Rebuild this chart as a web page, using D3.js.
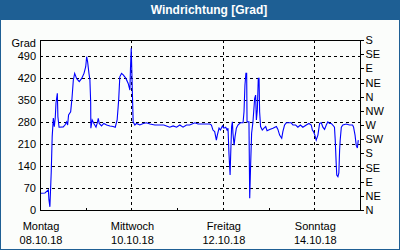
<!DOCTYPE html>
<html><head><meta charset="utf-8">
<script src="https://cdn.jsdelivr.net/npm/d3@7"></script>
<style>
body{margin:0;background:#fff;}
text{font-family:"Liberation Sans",Arial,sans-serif;}
</style></head>
<body><svg id="c" width="400" height="250"></svg>
<script>
const title = "Windrichtung [Grad]";
const unitLabel = "Grad";
const startDate = new Date(2018, 9, 8);
const dayNames = ["Montag","Mittwoch","Freitag","Sonntag"];
const dayDates = ["08.10.18","10.10.18","12.10.18","14.10.18"];
const labelDays = [0,2,4,6];
const leftTicks = [0,70,140,210,280,350,420,490];
const compassTicks = [0,45,90,135,180,225,270,315,360,405,450,495,540];
const compassNames = ["N","NE","E","SE","S","SW","W","NW","N","NE","E","SE","S"];
const hours = [0.5,2.6,4.4,4.7,5.2,5.9,6.4,7.0,7.5,8.0,8.4,9.1,9.4,10.0,12.2,13.1,14.0,14.5,15.0,16.1,16.8,17.5,18.2,19.2,20.6,21.9,23.1,24.0,24.5,25.0,25.7,26.2,26.6,26.7,27.4,28.3,29.4,30.0,30.6,31.1,32.3,33.5,35.0,36.7,38.4,39.5,40.5,41.3,41.9,42.8,43.7,45.1,46.3,47.2,47.5,47.9,48.2,48.6,48.9,49.8,50.7,52.4,54.2,55.9,57.7,60.3,62.9,65.0,66.4,68.1,69.9,71.7,73.4,75.1,76.9,78.6,81.3,83.0,85.6,89.1,90.0,90.8,91.7,92.6,93.1,94.0,94.7,95.8,96.5,97.5,98.2,98.7,99.2,99.8,100.1,100.6,101.0,101.3,101.9,102.4,103.1,103.9,105.2,106.6,107.1,107.6,108.1,108.5,108.7,109.7,110.1,110.6,111.1,111.8,112.7,113.2,113.6,114.1,114.6,115.0,115.3,115.8,116.7,117.6,118.5,119.2,120.6,122.3,124.1,124.9,125.8,126.9,127.5,128.4,129.3,131.9,132.8,134.2,135.4,136.7,138.0,139.8,141.2,142.4,143.0,143.6,144.3,145.0,145.9,146.8,147.7,148.5,149.4,150.3,151.1,152.0,152.9,153.7,154.6,155.0,155.5,155.8,156.4,156.9,157.3,157.6,158.2,159.0,160.8,162.5,164.1,164.6,165.4,166.0,166.6,167.1];
const degrees = [53,54,64,32,10,121,233,292,265,292,340,371,296,263,264,270,280,270,302,312,355,413,434,418,408,418,434,455,487,471,434,413,344,260,286,275,263,275,291,275,267,275,270,267,265,263,286,349,423,434,429,418,402,381,450,514,445,349,280,270,275,270,275,277,273,270,270,270,267,263,267,263,270,263,270,270,277,273,273,273,270,254,249,222,238,260,254,267,260,263,254,260,180,111,175,265,280,244,206,233,260,270,277,277,312,397,434,434,280,280,37,148,244,280,355,365,286,318,418,418,312,265,254,260,265,252,256,260,265,256,238,228,249,270,277,277,270,270,263,270,263,270,275,270,254,249,238,222,238,275,277,263,256,270,280,275,275,270,263,222,148,111,106,118,191,222,263,270,273,270,270,264,238,206,197,222];

const svg = d3.select("#c");
const W = 400, H = 250;
const blue = "#1e5f94";
const L = 40, R = 360, T = 40, B = 210;

svg.append("rect").attr("width", W).attr("height", H).attr("fill", blue);
svg.append("rect").attr("x", 1).attr("y", 20).attr("width", W - 2).attr("height", H - 21).attr("fill", "#fbfdfb");
svg.append("text").attr("x", 209).attr("y", 14).attr("text-anchor", "middle")
  .attr("fill", "#fff").attr("font-weight", "bold").attr("font-size", 12).text(title);

const x = d3.scaleTime().domain([startDate, d3.timeDay.offset(startDate, 7)]).range([L, R]);
const y = d3.scaleLinear().domain([0, 540]).range([B, T]);
const data = hours.map((h, i) => ({t: new Date(startDate.getTime() + h * 3600e3), v: degrees[i]}));

const snap = v => Math.round(v) + 0.5;

// horizontal grid
svg.append("g").selectAll("line").data(leftTicks.filter(d => d > 0)).join("line")
  .attr("x1", L).attr("x2", R).attr("y1", d => snap(y(d))).attr("y2", d => snap(y(d)))
  .attr("stroke", "#000").attr("stroke-dasharray", "3,3").attr("shape-rendering", "crispEdges");
// vertical grid
const gridDays = labelDays.filter(d => d > 0).map(d => d3.timeDay.offset(startDate, d));
svg.append("g").selectAll("line").data(gridDays).join("line")
  .attr("x1", d => snap(x(d))).attr("x2", d => snap(x(d))).attr("y1", T).attr("y2", B)
  .attr("stroke", "#000").attr("stroke-dasharray", "3,3").attr("shape-rendering", "crispEdges");

// line
svg.append("path").datum(data)
  .attr("d", d3.line().x(d => x(d.t)).y(d => y(d.v)))
  .attr("fill", "none").attr("stroke", "#0000ff").attr("stroke-width", 1.1);

// frame
svg.append("rect").attr("x", L + 0.5).attr("y", T + 0.5).attr("width", R - L).attr("height", B - T)
  .attr("fill", "none").attr("stroke", "#000").attr("shape-rendering", "crispEdges");

// bottom day ticks (inward)
const allDays = d3.range(1, 7).map(d => d3.timeDay.offset(startDate, d));
svg.append("g").selectAll("line").data(allDays).join("line")
  .attr("x1", d => snap(x(d))).attr("x2", d => snap(x(d))).attr("y1", B - 2).attr("y2", B + 1)
  .attr("stroke", "#000").attr("shape-rendering", "crispEdges");

// left labels
const gl = svg.append("g").attr("transform", `translate(${L},0)`)
  .call(d3.axisLeft(y).tickValues(leftTicks).tickSize(0).tickPadding(4));
gl.select(".domain").remove();
gl.selectAll("text").attr("font-size", 11).attr("fill", "#000").attr("font-family", "Liberation Sans, Arial, sans-serif");
svg.append("text").attr("x", L - 4).attr("y", 43).attr("dy", "0.32em").attr("text-anchor", "end")
  .attr("font-size", 11).text(unitLabel);

// right compass axis
const gr = svg.append("g").attr("transform", `translate(${R + 0.5},0)`)
  .call(d3.axisRight(y).tickValues(compassTicks).tickSize(3).tickPadding(2)
    .tickFormat((d, i) => compassNames[i]));
gr.select(".domain").remove();
gr.selectAll("line").attr("shape-rendering", "crispEdges");
gr.selectAll("text").attr("font-size", 11).attr("fill", "#000").attr("font-family", "Liberation Sans, Arial, sans-serif");

// bottom labels
const lab = svg.append("g").selectAll("g").data(labelDays).join("g")
  .attr("transform", d => `translate(${x(d3.timeDay.offset(startDate, d)) + 1},0)`);
lab.append("text").attr("y", 230).attr("text-anchor", "middle").attr("font-size", 11)
  .text((d, i) => dayNames[i]);
lab.append("text").attr("y", 243.5).attr("text-anchor", "middle").attr("font-size", 11)
  .text((d, i) => dayDates[i]);
</script></body></html>
